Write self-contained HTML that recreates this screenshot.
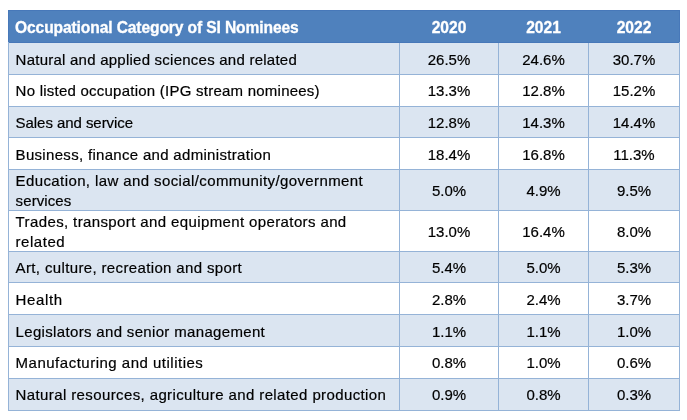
<!DOCTYPE html>
<html><head><meta charset="utf-8"><style>
html,body{margin:0;padding:0;background:#fff;}
body{width:687px;height:420px;position:relative;overflow:hidden;font-family:"Liberation Sans",sans-serif;}
div{position:absolute;}
.t,.n,.h,.hn{font-size:15px;line-height:20px;white-space:nowrap;filter:grayscale(1);}
.h,.hn{font-size:15.6px !important;}
.t,.n{color:#000;-webkit-text-stroke:0.2px #000;}
.h,.hn{color:#fff;font-weight:bold;-webkit-text-stroke:0.3px #fff;}
.n,.hn{text-align:center;}
</style></head><body>
<div style="left:9px;top:11px;width:670px;height:31px;background:#4f81bd;"></div>
<div style="left:8px;top:10px;width:672px;height:1px;background:#4778b9;"></div>
<div style="left:9px;top:42px;width:670px;height:1px;background:#4778b9;"></div>
<div style="left:8px;top:10px;width:1px;height:32px;background:#4778b9;"></div>
<div style="left:679px;top:10px;width:1px;height:32px;background:#4778b9;"></div>
<div style="left:9px;top:43px;width:670px;height:31px;background:#dbe5f1;"></div>
<div style="left:9px;top:107px;width:670px;height:30px;background:#dbe5f1;"></div>
<div style="left:9px;top:170px;width:670px;height:40px;background:#dbe5f1;"></div>
<div style="left:9px;top:252px;width:670px;height:30px;background:#dbe5f1;"></div>
<div style="left:9px;top:315px;width:670px;height:31px;background:#dbe5f1;"></div>
<div style="left:9px;top:379px;width:670px;height:31px;background:#dbe5f1;"></div>
<div style="left:8px;top:74px;width:672px;height:1px;background:#95b3d7;"></div>
<div style="left:8px;top:106px;width:672px;height:1px;background:#95b3d7;"></div>
<div style="left:8px;top:137px;width:672px;height:1px;background:#95b3d7;"></div>
<div style="left:8px;top:169px;width:672px;height:1px;background:#95b3d7;"></div>
<div style="left:8px;top:210px;width:672px;height:1px;background:#95b3d7;"></div>
<div style="left:8px;top:251px;width:672px;height:1px;background:#95b3d7;"></div>
<div style="left:8px;top:282px;width:672px;height:1px;background:#95b3d7;"></div>
<div style="left:8px;top:314px;width:672px;height:1px;background:#95b3d7;"></div>
<div style="left:8px;top:346px;width:672px;height:1px;background:#95b3d7;"></div>
<div style="left:8px;top:378px;width:672px;height:1px;background:#95b3d7;"></div>
<div style="left:8px;top:410px;width:672px;height:1px;background:#95b3d7;"></div>
<div style="left:8px;top:42px;width:1px;height:369px;background:#95b3d7;"></div>
<div style="left:399px;top:43px;width:1px;height:368px;background:#95b3d7;"></div>
<div style="left:498px;top:43px;width:1px;height:368px;background:#95b3d7;"></div>
<div style="left:588px;top:43px;width:1px;height:368px;background:#95b3d7;"></div>
<div style="left:679px;top:42px;width:1px;height:369px;background:#95b3d7;"></div>
<div class="h" style="left:15px;top:18px;letter-spacing:-0.114px;">Occupational Category of SI Nominees</div>
<div class="hn" style="left:400px;width:98px;top:18px;">2020</div>
<div class="hn" style="left:499px;width:89px;top:18px;">2021</div>
<div class="hn" style="left:589px;width:90px;top:18px;">2022</div>
<div class="t" style="left:15.6px;top:50px;letter-spacing:0.238px;">Natural and applied sciences and related</div>
<div class="n" style="left:400px;width:98px;top:50px;">26.5%</div>
<div class="n" style="left:499px;width:89px;top:50px;">24.6%</div>
<div class="n" style="left:589px;width:90px;top:50px;">30.7%</div>
<div class="t" style="left:15.6px;top:81px;letter-spacing:0.237px;">No listed occupation (IPG stream nominees)</div>
<div class="n" style="left:400px;width:98px;top:81px;">13.3%</div>
<div class="n" style="left:499px;width:89px;top:81px;">12.8%</div>
<div class="n" style="left:589px;width:90px;top:81px;">15.2%</div>
<div class="t" style="left:15.6px;top:113px;letter-spacing:-0.056px;">Sales and service</div>
<div class="n" style="left:400px;width:98px;top:113px;">12.8%</div>
<div class="n" style="left:499px;width:89px;top:113px;">14.3%</div>
<div class="n" style="left:589px;width:90px;top:113px;">14.4%</div>
<div class="t" style="left:15.6px;top:145px;letter-spacing:0.311px;">Business, finance and administration</div>
<div class="n" style="left:400px;width:98px;top:145px;">18.4%</div>
<div class="n" style="left:499px;width:89px;top:145px;">16.8%</div>
<div class="n" style="left:589px;width:90px;top:145px;">11.3%</div>
<div class="t" style="left:15.6px;top:171px;letter-spacing:0.396px;">Education, law and social/community/government</div>
<div class="t" style="left:15.6px;top:191px;letter-spacing:0.1px;">services</div>
<div class="n" style="left:400px;width:98px;top:181px;">5.0%</div>
<div class="n" style="left:499px;width:89px;top:181px;">4.9%</div>
<div class="n" style="left:589px;width:90px;top:181px;">9.5%</div>
<div class="t" style="left:15.6px;top:212px;letter-spacing:0.382px;">Trades, transport and equipment operators and</div>
<div class="t" style="left:15.6px;top:232px;letter-spacing:0.533px;">related</div>
<div class="n" style="left:400px;width:98px;top:222px;">13.0%</div>
<div class="n" style="left:499px;width:89px;top:222px;">16.4%</div>
<div class="n" style="left:589px;width:90px;top:222px;">8.0%</div>
<div class="t" style="left:15.6px;top:258px;letter-spacing:0.361px;">Art, culture, recreation and sport</div>
<div class="n" style="left:400px;width:98px;top:258px;">5.4%</div>
<div class="n" style="left:499px;width:89px;top:258px;">5.0%</div>
<div class="n" style="left:589px;width:90px;top:258px;">5.3%</div>
<div class="t" style="left:15.6px;top:290px;letter-spacing:0.64px;">Health</div>
<div class="n" style="left:400px;width:98px;top:290px;">2.8%</div>
<div class="n" style="left:499px;width:89px;top:290px;">2.4%</div>
<div class="n" style="left:589px;width:90px;top:290px;">3.7%</div>
<div class="t" style="left:15.6px;top:322px;letter-spacing:0.334px;">Legislators and senior management</div>
<div class="n" style="left:400px;width:98px;top:322px;">1.1%</div>
<div class="n" style="left:499px;width:89px;top:322px;">1.1%</div>
<div class="n" style="left:589px;width:90px;top:322px;">1.0%</div>
<div class="t" style="left:15.6px;top:353px;letter-spacing:0.5px;">Manufacturing and utilities</div>
<div class="n" style="left:400px;width:98px;top:353px;">0.8%</div>
<div class="n" style="left:499px;width:89px;top:353px;">1.0%</div>
<div class="n" style="left:589px;width:90px;top:353px;">0.6%</div>
<div class="t" style="left:15.6px;top:385px;letter-spacing:0.387px;">Natural resources, agriculture and related production</div>
<div class="n" style="left:400px;width:98px;top:385px;">0.9%</div>
<div class="n" style="left:499px;width:89px;top:385px;">0.8%</div>
<div class="n" style="left:589px;width:90px;top:385px;">0.3%</div>
</body></html>
